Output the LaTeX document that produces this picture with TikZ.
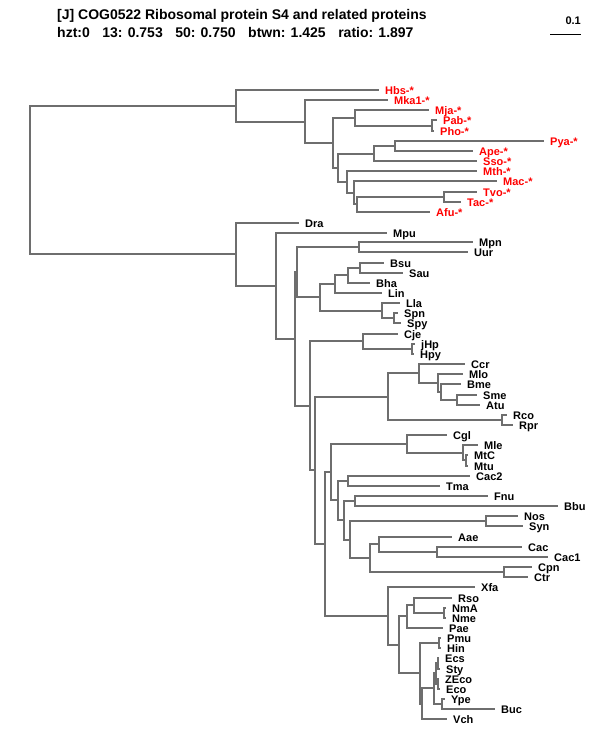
\documentclass[tikz,border=0pt]{standalone}
\usepackage{fontspec}
\setmainfont{Liberation Sans}
\definecolor{linegray}{RGB}{110,110,110}
\definecolor{archred}{RGB}{255,0,0}
\newcommand\leaffont{\fontsize{11}{12}\selectfont\bfseries}
\newcommand\headfont{\fontsize{14}{16}\selectfont\bfseries}
\begin{document}
\begin{tikzpicture}[x=1pt,y=-1pt,
  edge/.style={draw=linegray,line width=2pt},
  lab/.style={anchor=base west,inner sep=0pt,font=\leaffont,xshift=6pt,yshift=-4pt},
  alab/.style={lab,text=archred},
  blab/.style={lab,text=black},
  head/.style={anchor=base west,inner sep=0pt,font=\headfont}]
\fill[white] (0,0) rectangle (600,750);
\useasboundingbox (0,0) rectangle (600,750);

% header
\node[head] (title) at (57,19) {[J] COG0522 Ribosomal protein S4 and related proteins};
\node[head] (stats) at (57,37) {hzt:0\hspace{12.5pt}13: 0.753\hspace{12.5pt}50: 0.750\hspace{12.5pt}btwn: 1.425\hspace{12.5pt}ratio: 1.897};
\coordinate (sbA) at (550,34);
\coordinate (sbB) at (581,34);
\draw[black,line width=1pt] (sbA) -- (sbB);
\node[anchor=base east,inner sep=0pt,font=\leaffont] (sblab) at (581,24) {0.1};

% leaves: archaea
\foreach \n/\x/\y in {Hbs/379/90, Mka1/388/100, Mja/429/110, Pab/437/120,
  Pho/434/131, Pya/544/141, Ape/473/151, Sso/477/161, Mth/477/171,
  Mac/497/181, Tvo/477/192, Tac/461/202, Afu/430/212}
{ \coordinate (\n) at (\x,\y); \node[alab] (L\n) at (\n) {\n-*}; }

% leaves: bacteria
\foreach \n/\x/\y in {Dra/299/223, Mpu/387/233, Mpn/473/242, Uur/468/252,
  Bsu/384/263, Sau/403/273, Bha/370/283, Lin/382/293, Lla/400/303,
  Spn/398/313, Spy/401/323, Cje/398/334, jHp/415/344, Hpy/414/354,
  Ccr/465/364, Mlo/463/374, Bme/461/384, Sme/477/395, Atu/480/405,
  Rco/507/415, Rpr/513/425, Cgl/447/435, Mle/478/445, MtC/468/455,
  Mtu/468/466, Cac2/470/476, Tma/440/486, Fnu/488/496, Bbu/558/506,
  Nos/518/516, Syn/523/526, Aae/452/537, Cac/522/547, Cac1/548/557,
  Cpn/532/567, Ctr/528/577, Xfa/475/587, Rso/452/598, NmA/446/608,
  Nme/446/618, Pae/443/628, Pmu/441/638, Hin/441/648, Ecs/439/658,
  Sty/440/669, ZEco/439/679, Eco/440/689, Ype/445/699, Buc/495/709,
  Vch/447/719}
{ \coordinate (\n) at (\x,\y); \node[blab] (L\n) at (\n) {\n}; }

% internal nodes
\foreach \n/\x/\y in {root/30/180, Arch/236/106, A1/305/122, A2/333/143,
  A3/355/118, PP/432/126, A4/338/168, A5/374/154, A6/395/146,
  A7/347/182, A8/354/193, A9/357/204, TT/444/197,
  B0/236/254, B1/276/286, B3/295/339, B2/297/272, MU/359/247,
  Firm/320/297, F1/335/284, F2/348/275, BS/360/268, LS/382/311,
  SS/394/318, B4/310/406, Eps/363/341, HH/412/349, B5/315/470,
  Alpha/388/397, AL1/419/373, AL2/438/383, AL3/441/392, SA/457/400,
  RR/502/420, B6/325/544, B7/331/472, CM/407/444, Myco/463/453,
  MM/466/460, B8/338/500, CT/348/481, B9/344/520, FB/355/501,
  B10/350/540, NS/486/521, B11/370/558, B12/379/544, CC/437/552,
  CP/504/572, G0/388/616, G1/399/645, G2/407/616, G3/414/605,
  NN/444/613, G4/420/673, PH/439/643, G5/422/704, G6/434/688,
  Ent/436/673, ES/438/663, ZE/438/684, YB/442/704}
{ \coordinate (\n) at (\x,\y); }

% edges
\foreach \p/\c in {root/Arch, root/B0,
  Arch/Hbs, Arch/A1, A1/Mka1, A1/A2, A2/A3, A2/A4, A3/Mja, A3/PP, PP/Pab, PP/Pho,
  A4/A5, A4/A7, A5/A6, A5/Sso, A6/Pya, A6/Ape, A7/Mth, A7/A8, A8/Mac, A8/A9,
  A9/TT, A9/Afu, TT/Tvo, TT/Tac,
  B0/Dra, B0/B1, B1/Mpu, B1/B3, B3/B2, B3/B4, B2/MU, B2/Firm, MU/Mpn, MU/Uur,
  Firm/F1, Firm/LS, F1/F2, F1/Lin, F2/BS, F2/Bha, BS/Bsu, BS/Sau, LS/Lla, LS/SS,
  SS/Spn, SS/Spy, B4/Eps, B4/B5, Eps/Cje, Eps/HH, HH/jHp, HH/Hpy,
  B5/Alpha, B5/B6, Alpha/AL1, Alpha/RR, AL1/Ccr, AL1/AL2, AL2/Mlo, AL2/AL3,
  AL3/Bme, AL3/SA, SA/Sme, SA/Atu, RR/Rco, RR/Rpr,
  B6/B7, B6/G0, B7/CM, B7/B8, CM/Cgl, CM/Myco, Myco/Mle, Myco/MM, MM/MtC, MM/Mtu,
  B8/CT, B8/B9, CT/Cac2, CT/Tma, B9/FB, B9/B10, FB/Fnu, FB/Bbu, B10/NS, B10/B11,
  NS/Nos, NS/Syn, B11/B12, B11/CP, B12/Aae, B12/CC, CC/Cac, CC/Cac1, CP/Cpn, CP/Ctr,
  G0/Xfa, G0/G1, G1/G2, G1/G4, G2/G3, G2/Pae, G3/Rso, G3/NN, NN/NmA, NN/Nme,
  G4/PH, G4/G5, PH/Pmu, PH/Hin, G5/G6, G5/Vch, G6/Ent, G6/YB, Ent/ES, Ent/ZE,
  ES/Ecs, ES/Sty, ZE/ZEco, ZE/Eco, YB/Ype, YB/Buc}
{ \draw[edge] (\p) |- (\c); }
\end{tikzpicture}
\end{document}
